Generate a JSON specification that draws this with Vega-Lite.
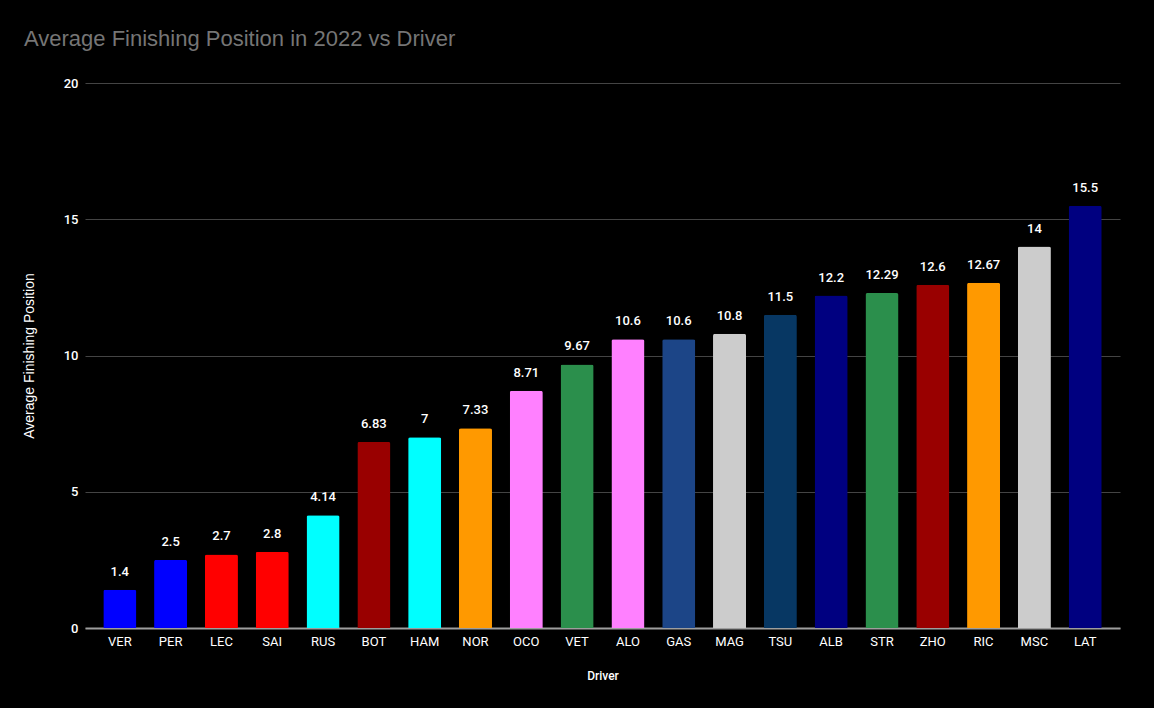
{
  "$schema": "https://vega.github.io/schema/vega-lite/v6.json",
  "width": 1035,
  "height": 545,
  "autosize": "none",
  "padding": {"left": 85, "top": 83, "right": 34, "bottom": 80},
  "background": "#000000",
  "title": {
    "text": "Average Finishing Position in 2022 vs Driver",
    "anchor": "start",
    "frame": "group",
    "dx": -61,
    "offset": 26,
    "font": "Arial",
    "fontSize": 22,
    "fontWeight": "normal",
    "color": "#757575"
  },
  "config": {
    "view": {"stroke": null},
    "font": "Roboto"
  },
  "data": {
    "values": [
      {"driver": "VER", "pos": 1.4, "color": "#0000ff"},
      {"driver": "PER", "pos": 2.5, "color": "#0000ff"},
      {"driver": "LEC", "pos": 2.7, "color": "#ff0000"},
      {"driver": "SAI", "pos": 2.8, "color": "#ff0000"},
      {"driver": "RUS", "pos": 4.14, "color": "#00ffff"},
      {"driver": "BOT", "pos": 6.83, "color": "#990000"},
      {"driver": "HAM", "pos": 7, "color": "#00ffff"},
      {"driver": "NOR", "pos": 7.33, "color": "#ff9900"},
      {"driver": "OCO", "pos": 8.71, "color": "#ff80ff"},
      {"driver": "VET", "pos": 9.67, "color": "#2b8f4c"},
      {"driver": "ALO", "pos": 10.6, "color": "#ff80ff"},
      {"driver": "GAS", "pos": 10.6, "color": "#1c4587"},
      {"driver": "MAG", "pos": 10.8, "color": "#cccccc"},
      {"driver": "TSU", "pos": 11.5, "color": "#073763"},
      {"driver": "ALB", "pos": 12.2, "color": "#000080"},
      {"driver": "STR", "pos": 12.29, "color": "#2b8f4c"},
      {"driver": "ZHO", "pos": 12.6, "color": "#990000"},
      {"driver": "RIC", "pos": 12.67, "color": "#ff9900"},
      {"driver": "MSC", "pos": 14, "color": "#cccccc"},
      {"driver": "LAT", "pos": 15.5, "color": "#000080"}
    ]
  },
  "encoding": {
    "x": {
      "field": "driver",
      "type": "nominal",
      "sort": null,
      "scale": {"paddingInner": 0.35, "paddingOuter": 0.36},
      "axis": {
        "title": "Driver",
        "titleColor": "#ffffff",
        "titleFont": "Roboto",
        "titleFontSize": 12,
        "titleFontWeight": 500,
        "titlePadding": 22,
        "labelAngle": 0,
        "labelColor": "#ffffff",
        "labelFont": "Roboto",
        "labelFontSize": 13,
        "labelPadding": 7,
        "ticks": false,
        "domainColor": "#9e9e9e",
        "domainWidth": 2,
        "grid": false
      }
    },
    "y": {
      "field": "pos",
      "type": "quantitative",
      "scale": {"domain": [0, 20], "nice": false},
      "axis": {
        "title": "Average Finishing Position",
        "titleColor": "#ffffff",
        "titleFont": "Arial",
        "titleFontSize": 14,
        "titleFontWeight": "normal",
        "titlePadding": 27,
        "values": [0, 5, 10, 15, 20],
        "labelColor": "#ffffff",
        "labelFont": "Roboto",
        "labelFontSize": 13,
        "labelFontWeight": 500,
        "labelPadding": 7,
        "ticks": false,
        "domain": false,
        "grid": true,
        "gridColor": "#444444",
        "gridWidth": 1
      }
    }
  },
  "layer": [
    {
      "mark": {"type": "bar", "cornerRadiusTopLeft": 2, "cornerRadiusTopRight": 2},
      "encoding": {
        "color": {"field": "color", "type": "nominal", "scale": null}
      }
    },
    {
      "mark": {
        "type": "text",
        "baseline": "bottom",
        "dy": -11,
        "color": "#ffffff",
        "font": "Roboto",
        "fontSize": 13,
        "fontWeight": 500
      },
      "encoding": {
        "text": {"field": "pos", "type": "quantitative"}
      }
    }
  ]
}
